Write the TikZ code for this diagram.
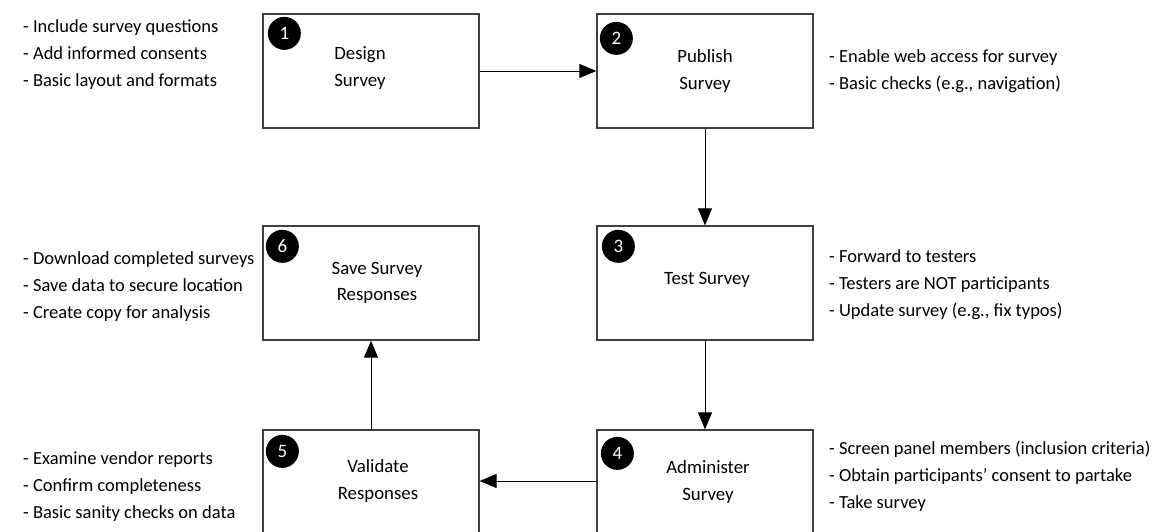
\documentclass[tikz,border=0pt]{standalone}
\usepackage{fontspec}
\setmainfont{Carlito}
\usetikzlibrary{arrows.meta}
\usetikzlibrary{positioning}

\begin{document}
\begin{tikzpicture}[x=1pt,y=-1pt,
  stage/.style={draw=black!75,line width=1.3pt,minimum width=216pt,minimum height=114pt,inner sep=0pt},
  badge/.style={circle,fill=black,text=white,minimum size=33pt,inner sep=0pt,font=\fontsize{19}{19}\selectfont},
  title/.style={align=center,inner sep=0pt,font=\fontsize{18.8}{26.5}\selectfont},
  notes/.style={align=left,anchor=west,inner sep=0pt,font=\fontsize{18.5}{27}\selectfont},
  flow/.style={-{Triangle[length=17pt,width=14pt]},line width=1pt}]
  \useasboundingbox (0,0) rectangle (1166,531);
  % the six stages
  \node[stage] (design) at (371,71) {};
  \node[stage] (publish) at (705,71) {};
  \node[stage] (test) at (705,283) {};
  \node[stage] (administer) at (705,487) {};
  \node[stage] (validate) at (371,487) {};
  \node[stage] (save) at (371,283) {};
  \foreach \n/\b/\dx/\dy in {1/design/22/20,2/publish/20/25,3/test/22/21,4/administer/21/24,5/validate/20/22,6/save/20/21}
    \node[badge] (badge\n) at ([shift={(\dx,\dy)}]\b.north west) {\n};
  \node[title,align=left] (designtxt) at (360,68) {Design\\Survey};
  \node[title] (publishtxt) at (705,71) {Publish\\Survey};
  \node[title] (testtxt) at (707,280) {Test Survey};
  \node[title] (administertxt) at (708,482) {Administer\\Survey};
  \node[title] (validatetxt) at (378,481) {Validate\\Responses};
  \node[title] (savetxt) at (377,283) {Save Survey\\Responses};
  % notes beside the stages
  \node[notes] (designnotes) at (23,55) {- Include survey questions\\- Add informed consents\\- Basic layout and formats};
  \node[notes] (publishnotes) at (829,71) {- Enable web access for survey\\- Basic checks (e.g., navigation)};
  \node[notes] (testnotes) at (829,285) {- Forward to testers\\- Testers are NOT participants\\- Update survey (e.g., fix typos)};
  \node[notes] (administernotes) at (829,476) {- Screen panel members (inclusion criteria)\\- Obtain participants’ consent to partake\\- Take survey};
  \node[notes] (validatenotes) at (23,487) {- Examine vendor reports\\- Confirm completeness\\- Basic sanity checks on data};
  \node[notes] (savenotes) at (23,287) {- Download completed surveys\\- Save data to secure location\\- Create copy for analysis};
  % flow
  \draw[flow] (design) -- (publish);
  \draw[flow] (publish) -- (test);
  \draw[flow] (test) -- (administer);
  \draw[flow] ([yshift=6pt]administer.west) -- ([yshift=6pt]validate.east);
  \draw[flow] (validate) -- (save);
\end{tikzpicture}
\end{document}
